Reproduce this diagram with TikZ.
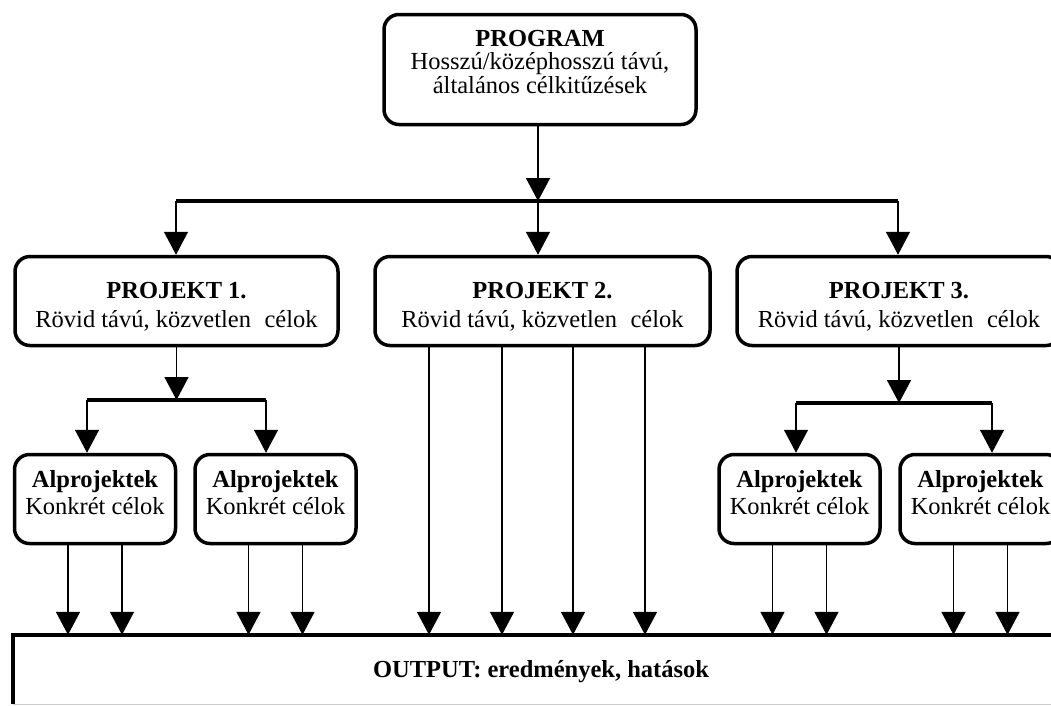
\documentclass[tikz,border=0pt]{standalone}
\usepackage{fontspec}
\setmainfont{Liberation Serif}
\usetikzlibrary{arrows.meta}
\begin{document}
\begin{tikzpicture}[x=1pt,y=-1pt,
  box/.style={draw, line width=3.5pt, rounded corners=15pt, align=center, inner sep=0pt, fill=white},
  progbox/.style={box, minimum width=312pt, minimum height=110pt, text height=77pt, text depth=30pt,
    font=\fontsize{24.5}{23.5}\selectfont},
  projbox/.style={box, minimum height=89pt, text height=60pt, text depth=8pt,
    font=\fontsize{24.5}{29}\selectfont},
  subbox/.style={box, minimum width=161pt, minimum height=89pt, text height=50pt, text depth=20pt,
    font=\fontsize{24.5}{27}\selectfont},
  conn/.style={line width=1.5pt, -{Triangle[width=24pt,length=23pt]}},
  bar/.style={line width=4pt}
]
\useasboundingbox (0,0) rectangle (1051,705);
\clip (0,0) rectangle (1051,705);
\fill[white] (0,0) rectangle (1051,705);

% boxes
\node[progbox] (prog) at (540,69.5)
  {\textbf{PROGRAM}\\Hosszú/középhosszú távú,\\általános célkitűzések};
\node[projbox, minimum width=323pt] (p1) at (176.5,301)
  {\textbf{PROJEKT 1.}\\Rövid távú, közvetlen\hspace{0.3em} célok};
\node[projbox, minimum width=335pt] (p2) at (542.5,301)
  {\textbf{PROJEKT 2.}\\Rövid távú, közvetlen\hspace{0.3em} célok};
\node[projbox, minimum width=324pt] (p3) at (899,301)
  {\textbf{PROJEKT 3.}\\Rövid távú, közvetlen\hspace{0.3em} célok};
\node[subbox] (a1) at (95,499) {\textbf{Alprojektek}\\Konkrét célok};
\node[subbox] (a2) at (275.5,499) {\textbf{Alprojektek}\\Konkrét célok};
\node[subbox] (a3) at (799.5,499) {\textbf{Alprojektek}\\Konkrét célok};
\node[subbox] (a4) at (980.5,499) {\textbf{Alprojektek}\\Konkrét célok};
\node[minimum width=1056pt, minimum height=69pt, inner sep=0pt, text height=20pt, text depth=5pt,
  font=\fontsize{24.5}{28}\selectfont\bfseries] (out) at (541,669.5)
  {OUTPUT: eredmények, hatások};
\draw[line width=4pt] (out.south west) -- (out.north west) -- (out.north east);
\draw[black!20, line width=1pt] (out.south west) -- (out.south east);

% top distribution
\coordinate (b0l) at (176,201);
\coordinate (b0m) at (538,201);
\coordinate (b0r) at (898,201);
\draw[bar] (b0l) -- (b0r);
\draw[conn] (prog.south -| b0m) -- (b0m);
\draw[conn] (b0l) -- (b0l |- p1.north);
\draw[conn] (b0m) -- (b0m |- p2.north);
\draw[conn] (b0r) -- (b0r |- p3.north);

% project 1 split
\coordinate (b1l) at (87,400);
\coordinate (b1r) at (266,400);
\draw[bar] (b1l) -- (b1r);
\draw[conn] (p1.south) -- (p1.south |- b1l);
\draw[conn] (b1l) -- (b1l |- a1.north);
\draw[conn] (b1r) -- (b1r |- a2.north);

% project 3 split
\coordinate (b3l) at (796,403);
\coordinate (b3r) at (992,403);
\draw[bar] (b3l) -- (b3r);
\draw[conn] (p3.south) -- (p3.south |- b3l);
\draw[conn] (b3l) -- (b3l |- a3.north);
\draw[conn] (b3r) -- (b3r |- a4.north);

% to output
\foreach \n in {a1,a2,a3,a4}{
  \draw[conn] ([xshift=-27pt]\n.south) -- ([xshift=-27pt]\n.south |- out.north);
  \draw[conn] ([xshift=27pt]\n.south) -- ([xshift=27pt]\n.south |- out.north);
}
\foreach \d in {-113.5,-40.5,30.5,102.5}{
  \draw[conn] ([xshift=\d pt]p2.south) -- ([xshift=\d pt]p2.south |- out.north);
}
\end{tikzpicture}
\end{document}
